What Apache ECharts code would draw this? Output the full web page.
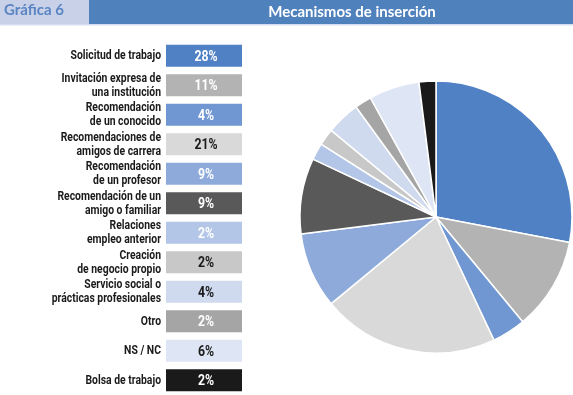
<!DOCTYPE html>
<html><head><meta charset="utf-8">
<script src="https://cdn.jsdelivr.net/npm/echarts@6/dist/echarts.min.js"></script>
<style>html,body{margin:0;padding:0;background:#fff}#c{width:573px;height:395px}</style>
</head><body><div id="c"></div>
<script>
const categories = [
  'Solicitud de trabajo',
  'Invitación expresa de\nuna institución',
  'Recomendación\nde un conocido',
  'Recomendaciones de\namigos de carrera',
  'Recomendación\nde un profesor',
  'Recomendación de un\namigo o familiar',
  'Relaciones\nempleo anterior',
  'Creación\nde negocio propio',
  'Servicio social o\nprácticas profesionales',
  'Otro',
  'NS / NC',
  'Bolsa de trabajo'
];
const values = [28, 11, 4, 21, 9, 9, 2, 2, 4, 2, 6, 2];
const colors = ['#4f81c4','#b3b3b3','#7097d1','#d9d9d9','#8eaadb','#595959','#b4c6e7','#c8c8c8','#cfdaef','#a5a5a5','#dee5f4','#1a1a1a'];
const darkText = [false,false,false,true,false,false,false,true,true,false,true,false];
const title = 'Mecanismos de inserción';
const tag = 'Gráfica 6';

const chart = echarts.init(document.getElementById('c'), null, {renderer:'canvas'});
const labelFont = 'Roboto, "Liberation Sans", sans-serif';
chart.setOption({
  animation:false,
  graphic:[
    {type:'rect', shape:{x:0,y:0,width:89,height:24}, style:{fill:'#c8d1e7'}},
    {type:'rect', shape:{x:89,y:0,width:484,height:24}, style:{fill:'#4f81bd'}},
    {type:'rect', shape:{x:0,y:24,width:573,height:1.5}, style:{fill:'#d5def0'}},
    {type:'text', left:4, top:3, style:{text:tag, fill:'#5a84c3', font:'bold 15px Lato, "Open Sans", sans-serif'}},
    {type:'text', x:352, y:12, style:{text:title, fill:'#ffffff', font:'bold 15px Lato, "Open Sans", sans-serif', align:'center', verticalAlign:'middle'}}
  ],
  grid:{left:166, top:41, width:76, height:354},
  xAxis:{type:'value', min:0, max:1, show:false},
  yAxis:{type:'category', data:categories, inverse:true,
    axisLine:{show:false}, axisTick:{show:false}, splitLine:{show:false},
    axisLabel:{show:false}},
  series:[
    {type:'custom', coordinateSystem:'cartesian2d',
     data: values.map((v,i)=>[i, v]),
     encode:{y:0, x:1},
     renderItem:function(params, api){
       const i = api.value(0);
       const p0 = api.coord([0, i]);
       const p1 = api.coord([1, i]);
       const h = 22;
       return {type:'group', children:[
         {type:'rect', shape:{x:p0[0], y:p0[1]-h/2, width:p1[0]-p0[0], height:h}, style:{fill:colors[i]}},
         {type:'text', x:(p0[0]+p1[0])/2+2, y:p0[1]+1, scaleX:0.82,
          style:{text:values[i]+'%', fill:darkText[i]?'#1a1a1a':'#ffffff', font:'bold 15px '+labelFont, align:'center', verticalAlign:'middle'}},
         {type:'text', x:p0[0]-5, y:p0[1], scaleX:0.8,
          style:{text:categories[i], fill:'#1a1a1a', font:'bold 13px '+labelFont, lineHeight:14, align:'right', verticalAlign:'middle'}}
       ]};
     }
    },
    {type:'pie', center:[436,217], radius:[0,136], startAngle:90, clockwise:true,
     label:{show:false}, labelLine:{show:false},
     itemStyle:{borderColor:'#ffffff', borderWidth:1.5},
     data: categories.map((c,i)=>({name:c, value:values[i], itemStyle:{color:colors[i]}}))
    }
  ]
});
</script></body></html>
